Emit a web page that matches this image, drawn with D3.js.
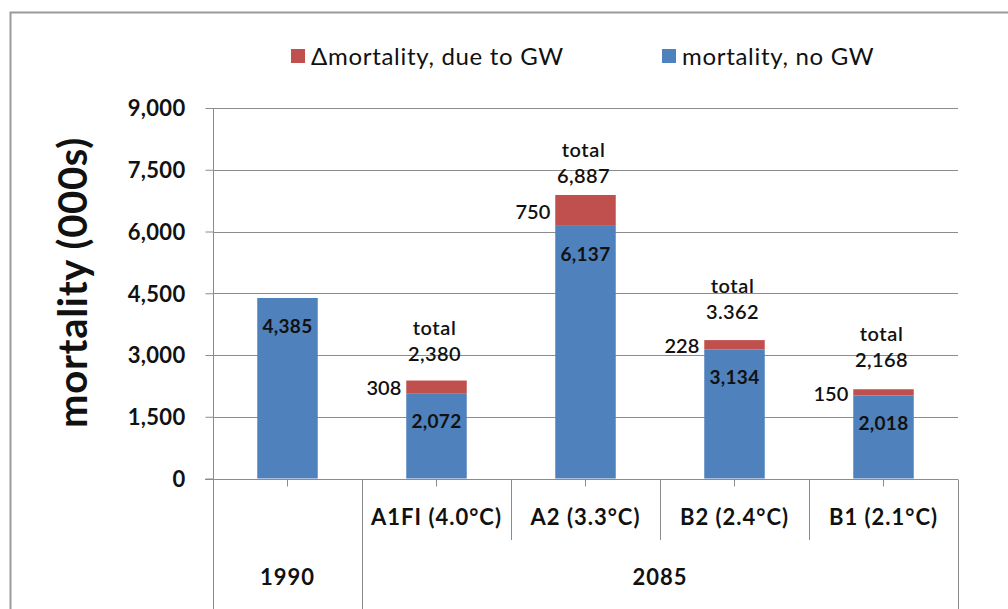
<!DOCTYPE html>
<html>
<head>
<meta charset="utf-8">
<script src="https://cdn.jsdelivr.net/npm/d3@7"></script>
<style>
  html, body { margin: 0; padding: 0; background: #fff; }
  svg { display: block; }
  text { font-family: Lato, "Open Sans", sans-serif; fill: #111; }
</style>
</head>
<body>
<svg id="chart" width="1008" height="609"></svg>
<script>
// ---------- data ----------
const categories = ["1990", "A1FI (4.0°C)", "A2 (3.3°C)", "B2 (2.4°C)", "B1 (2.1°C)"];
const groupOf    = ["1990", "2085", "2085", "2085", "2085"];
const groups     = ["1990", "2085"];
const baseValues  = [4385, 2072, 6137, 3134, 2018];   // mortality, no GW
const deltaValues = [0, 308, 750, 228, 150];          // Δmortality, due to GW
const totalLabels = [null, "2,380", "6,887", "3.362", "2,168"];
const yTicks = [0, 1500, 3000, 4500, 6000, 7500, 9000];
const seriesNames = ["Δmortality, due to GW", "mortality, no GW"];

// ---------- layout ----------
const W = 1008, H = 609;
const plot = { left: 213, right: 958, top: 108, bottom: 478.5 };
const colors = { base: "#4F81BD", delta: "#C0504D", grid: "#8c8c8c", border: "#9a9a9a" };
const totalLift = { "A1FI (4.0°C)": 27, "A2 (3.3°C)": 19, "B2 (2.4°C)": 28, "B1 (2.1°C)": 29 };

const svg = d3.select("#chart");
const fmt = d3.format(",");

// outer chart border
svg.append("rect")
  .attr("x", 10.5).attr("y", 12.5)
  .attr("width", W + 20).attr("height", H + 20)
  .attr("fill", "none").attr("stroke", colors.border).attr("stroke-width", 2);

const x = d3.scaleBand().domain(categories)
  .range([plot.left, plot.right]).paddingInner(0.594).paddingOuter(0.297);
const y = d3.scaleLinear().domain([0, 9000]).range([plot.bottom, plot.top]);

// gridlines
svg.append("g").selectAll("line").data(yTicks.filter(d => d > 0)).join("line")
  .attr("x1", plot.left).attr("x2", plot.right)
  .attr("y1", d => Math.round(y(d)) + 0.5).attr("y2", d => Math.round(y(d)) + 0.5)
  .attr("stroke", colors.grid).attr("stroke-width", 1);

// y axis
const yAxis = d3.axisLeft(y).tickValues(yTicks).tickFormat(fmt).tickSize(8).tickPadding(20);
const yg = svg.append("g").attr("transform", `translate(${plot.left + 0.5},0)`).call(yAxis);
yg.select(".domain").remove();
yg.selectAll(".tick line").attr("stroke", colors.grid);
yg.selectAll(".tick text")
  .style("font-family", "Lato, sans-serif").style("font-size", "22px").style("font-weight", "bold")
  .style("letter-spacing", "0.3px")
  .attr("fill", "#111").attr("dy", "0.36em");

// y axis vertical line (extends through the category table)
svg.append("line").attr("x1", plot.left + 0.5).attr("x2", plot.left + 0.5)
  .attr("y1", plot.top).attr("y2", H).attr("stroke", colors.grid);

// y axis title
svg.append("text")
  .attr("transform", `translate(87,${(137 + 428) / 2}) rotate(-90)`)
  .attr("text-anchor", "middle")
  .style("font-size", "40px").style("font-weight", "bold").style("letter-spacing", "0.7px")
  .text("mortality (000s)");

// bars
const barG = svg.append("g");
categories.forEach((c, i) => {
  const b = baseValues[i], d = deltaValues[i];
  barG.append("rect").attr("x", x(c)).attr("width", x.bandwidth())
    .attr("y", y(b)).attr("height", y(0) - y(b)).attr("fill", colors.base);
  if (d > 0) {
    barG.append("rect").attr("x", x(c)).attr("width", x.bandwidth())
      .attr("y", y(b + d)).attr("height", y(b) - y(b + d)).attr("fill", colors.delta);
  }
});

// x axis line
svg.append("line").attr("x1", 205).attr("x2", plot.right)
  .attr("y1", Math.round(plot.bottom) + 0.5).attr("y2", Math.round(plot.bottom) + 0.5)
  .attr("stroke", colors.grid);

// center tick marks
const xAxis = d3.axisBottom(x).tickSize(7).tickFormat("");
const xg = svg.append("g").attr("transform", `translate(0,${Math.round(plot.bottom) + 0.5})`).call(xAxis);
xg.select(".domain").remove();
xg.selectAll(".tick line").attr("stroke", colors.grid);

// category boundaries
const step = x.step();
const axisY = Math.round(plot.bottom) + 0.5;
categories.forEach((c, i) => {
  if (i === 0) return;
  const bx = Math.round(x(c) - x.paddingOuter() * step) + 0.5;
  const fullHeight = groupOf[i] !== groupOf[i - 1];
  svg.append("line").attr("x1", bx).attr("x2", bx)
    .attr("y1", axisY).attr("y2", fullHeight ? H : 540).attr("stroke", colors.grid);
});
svg.append("line").attr("x1", plot.right + 0.5).attr("x2", plot.right + 0.5)
  .attr("y1", axisY).attr("y2", H).attr("stroke", colors.grid);

// category labels (only for multi-level members)
categories.forEach((c, i) => {
  if (groupOf[i] === c) return;
  svg.append("text").attr("x", x(c) + x.bandwidth() / 2).attr("y", 517)
    .attr("dy", "0.36em").attr("text-anchor", "middle")
    .style("font-size", "22px").style("font-weight", "bold").style("letter-spacing", "1px").text(c);
});
// group labels
groups.forEach(g => {
  const idx = categories.map((c, i) => i).filter(i => groupOf[i] === g);
  const x0 = x(categories[idx[0]]) - x.paddingOuter() * step;
  const x1 = x(categories[idx[idx.length - 1]]) + x.bandwidth() + x.paddingOuter() * step;
  svg.append("text").attr("x", (x0 + x1) / 2).attr("y", 577)
    .attr("dy", "0.36em").attr("text-anchor", "middle")
    .style("font-size", "22px").style("font-weight", "bold").style("letter-spacing", "1px").text(g);
});

// data labels
categories.forEach((c, i) => {
  const cx = x(c) + x.bandwidth() / 2;
  const b = baseValues[i], d = deltaValues[i];
  svg.append("text").attr("x", cx).attr("y", y(b) + 28).attr("dy", "0.36em")
    .attr("text-anchor", "middle").style("font-size", "19px").style("font-weight", "bold")
    .style("letter-spacing", "0.3px")
    .attr("fill", "#0d1a2a").text(fmt(b));
  if (d > 0) {
    svg.append("text").attr("x", x(c) - 5).attr("y", (y(b) + y(b + d)) / 2 + 1).attr("dy", "0.36em")
      .attr("text-anchor", "end").style("font-size", "20px").style("font-weight", "600")
      .text(fmt(d));
  }
  if (totalLabels[i]) {
    const top = y(b + d);
    const lift = totalLift[c];
    svg.append("text").attr("x", cx - 2).attr("y", top - lift).attr("dy", "0.36em")
      .attr("text-anchor", "middle").style("font-size", "20px").style("font-weight", "600")
      .style("letter-spacing", "0.4px").text(totalLabels[i]);
    svg.append("text").attr("x", cx - 2).attr("y", top - lift - 26).attr("dy", "0.36em")
      .attr("text-anchor", "middle").style("font-size", "20px").style("font-weight", "600")
      .style("letter-spacing", "0.6px").text("total");
  }
});

// legend
const legendItems = [
  { name: seriesNames[0], color: colors.delta, x: 291 },
  { name: seriesNames[1], color: colors.base, x: 662 }
];
legendItems.forEach(it => {
  svg.append("rect").attr("x", it.x).attr("y", 49).attr("width", 14).attr("height", 14).attr("fill", it.color);
  svg.append("text").attr("x", it.x + 20).attr("y", 56).attr("dy", "0.36em")
    .style("font-size", "24px").style("letter-spacing", "0.7px").attr("fill", "#333").text(it.name);
});
</script>
</body>
</html>
